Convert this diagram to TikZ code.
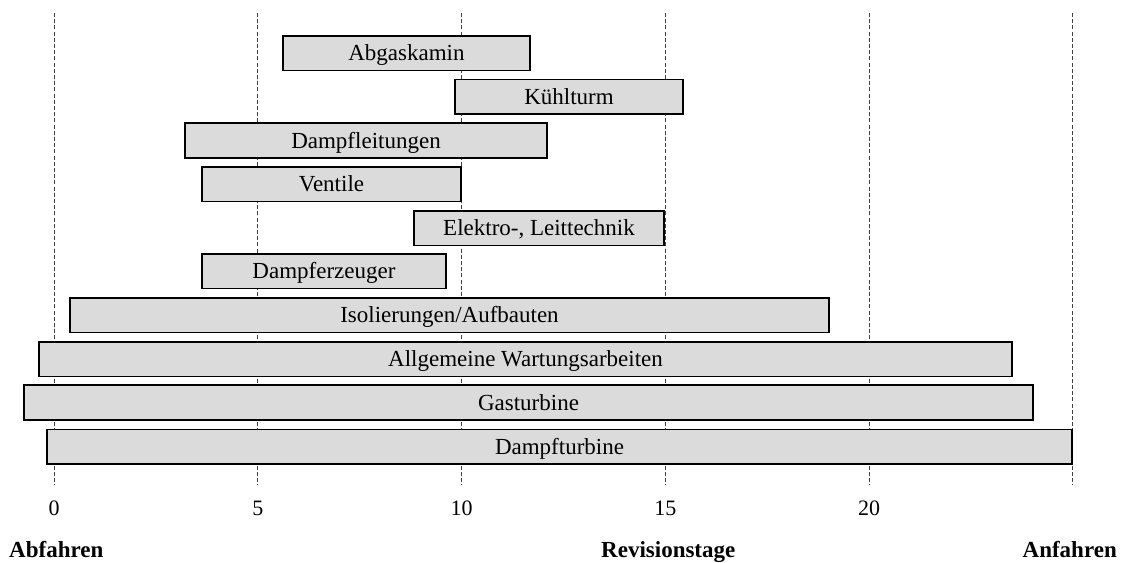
\documentclass[tikz,border=0pt]{standalone}
\usepackage{fontspec}
\setmainfont{Liberation Serif}
\begin{document}
\begin{tikzpicture}[x=1pt,y=-1pt,
  grid/.style={draw=black!75, line width=0.9pt, dash pattern=on 4pt off 2.2pt},
  taskbar/.style={draw=black, line width=1.6pt, fill=black!14, minimum height=34.6pt,
    inner sep=0pt, text height=15.2pt, text depth=0pt, font=\fontsize{23}{27}\selectfont},
  ticklabel/.style={anchor=base, inner sep=0pt, font=\fontsize{22}{26}\selectfont},
  axislabel/.style={inner sep=0pt, font=\fontsize{23}{27}\selectfont\bfseries}]
\useasboundingbox (0,0) rectangle (1131,562);

% day grid: 0 .. 25 days, every 5 days
\foreach \d in {0,5,...,25} {
  \coordinate (gt\d) at ({54+40.75*\d},13);
  \coordinate (gb\d) at ({54+40.75*\d},485);
  \draw[grid] (gt\d) -- (gb\d);
}
\foreach \d in {0,5,...,20} {
  \node[ticklabel] (t\d) at ({54+40.75*\d},515) {\d};
}

% work packages during the outage
\node[taskbar, minimum width=247pt]  (abgas)  at (406.5,53.3)  {Abgaskamin};
\node[taskbar, minimum width=228pt]  (kuehl)  at (569,96.8)    {Kühlturm};
\node[taskbar, minimum width=362pt]  (dampfl) at (366,140.5)   {Dampfleitungen};
\node[taskbar, minimum width=259pt]  (ventil) at (331.5,184.2) {Ventile};
\node[taskbar, minimum width=250pt]  (elektro) at (539,228)    {Elektro-, Leittechnik};
\node[taskbar, minimum width=244pt]  (erzeug) at (324,271.3)   {Dampferzeuger};
\node[taskbar, minimum width=759pt]  (isol)   at (449.5,315)   {Isolierungen/Aufbauten};
\node[taskbar, minimum width=973pt]  (wart)   at (525.5,359)   {Allgemeine Wartungsarbeiten};
\node[taskbar, minimum width=1009pt] (gast)   at (528.5,402.5) {Gasturbine};
\node[taskbar, minimum width=1025pt] (dampft) at (559.5,446.7) {Dampfturbine};

% axis captions
\node[axislabel, anchor=base west] (ab)  at (9,557)    {Abfahren};
\node[axislabel, anchor=base west] (rev) at (601,557)  {Revisionstage};
\node[axislabel, anchor=base east] (an)  at (1117,557) {Anfahren};
\end{tikzpicture}
\end{document}
